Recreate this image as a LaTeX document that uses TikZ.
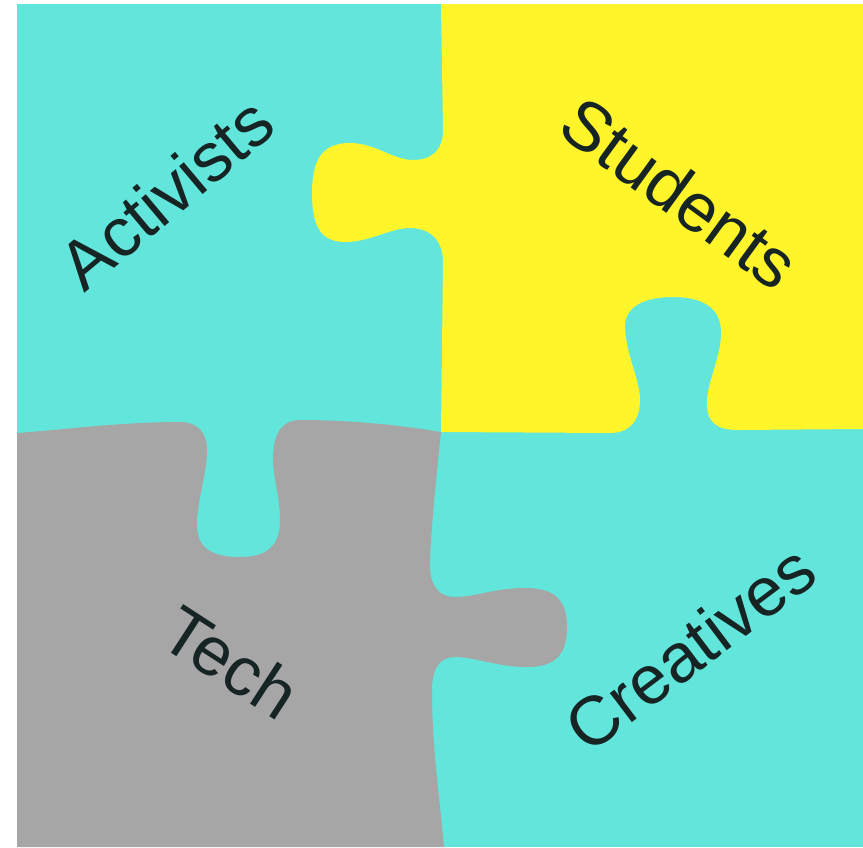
\documentclass[tikz,border=0pt]{standalone}
\usepackage{fontspec}
\setmainfont{Liberation Sans}
\definecolor{pcyan}{RGB}{98,230,219}
\definecolor{pyellow}{RGB}{255,245,42}
\definecolor{pgray}{RGB}{166,166,166}
\definecolor{ptext}{RGB}{22,36,36}
\tikzset{
  lbl/.style={inner sep=0pt, text=ptext, font=\fontsize{69}{80}\selectfont},
}
\begin{document}
\begin{tikzpicture}[x=1pt,y=-1pt]
\useasboundingbox (0,0) rectangle (863,847);
\fill[white] (0,0) rectangle (863,847);
% whole board cyan
\fill[pcyan] (17,4) rectangle (863,847);
% yellow piece (top right)
\fill[pyellow] (441,4) -- (863,4) -- (863,429)
  -- (738,430)
  .. controls (714,430) and (706,420) .. (707,400)
  .. controls (708,380) and (722,355) .. (721,330)
  .. controls (720,306) and (700,297) .. (673,297)
  .. controls (645,297) and (624,306) .. (625,328)
  .. controls (626,355) and (640,380) .. (640,400)
  .. controls (640,420) and (630,433) .. (610,433)
  -- (441,432)
  -- (443,262)
  .. controls (443,240) and (430,228) .. (410,228)
  .. controls (390,228) and (370,242) .. (345,242)
  .. controls (320,242) and (312,225) .. (312,193)
  .. controls (312,160) and (322,143) .. (350,143)
  .. controls (375,143) and (393,160) .. (413,160)
  .. controls (432,160) and (443,150) .. (443,130)
  -- cycle;
% gray piece (bottom left)
\fill[pgray] (17,433)
  .. controls (60,430) and (120,422) .. (180,422)
  .. controls (197,422) and (207,432) .. (207,450)
  .. controls (207,475) and (197,500) .. (197,525)
  .. controls (197,548) and (212,557) .. (240,557)
  .. controls (268,557) and (280,545) .. (280,520)
  .. controls (280,495) and (272,475) .. (273,455)
  .. controls (274,432) and (283,420) .. (300,420)
  .. controls (350,420) and (400,425) .. (441,432)
  .. controls (436,480) and (430,540) .. (430,565)
  .. controls (430,585) and (438,597) .. (455,597)
  .. controls (475,597) and (495,588) .. (525,588)
  .. controls (555,588) and (567,600) .. (567,627)
  .. controls (567,655) and (555,667) .. (527,667)
  .. controls (497,667) and (475,657) .. (455,657)
  .. controls (440,657) and (432,668) .. (432,690)
  .. controls (432,750) and (440,800) .. (444,847)
  -- (17,847) -- cycle;
% labels
\node[lbl, rotate=40] (act) at (166,193) {Activists};
\node[lbl, rotate=-36] (stu) at (680,193) {Students};
\node[lbl, rotate=-33] (tech) at (231,662) {Tech};
\node[lbl, rotate=37] (cre) at (690,648) {Creatives};
\end{tikzpicture}
\end{document}
